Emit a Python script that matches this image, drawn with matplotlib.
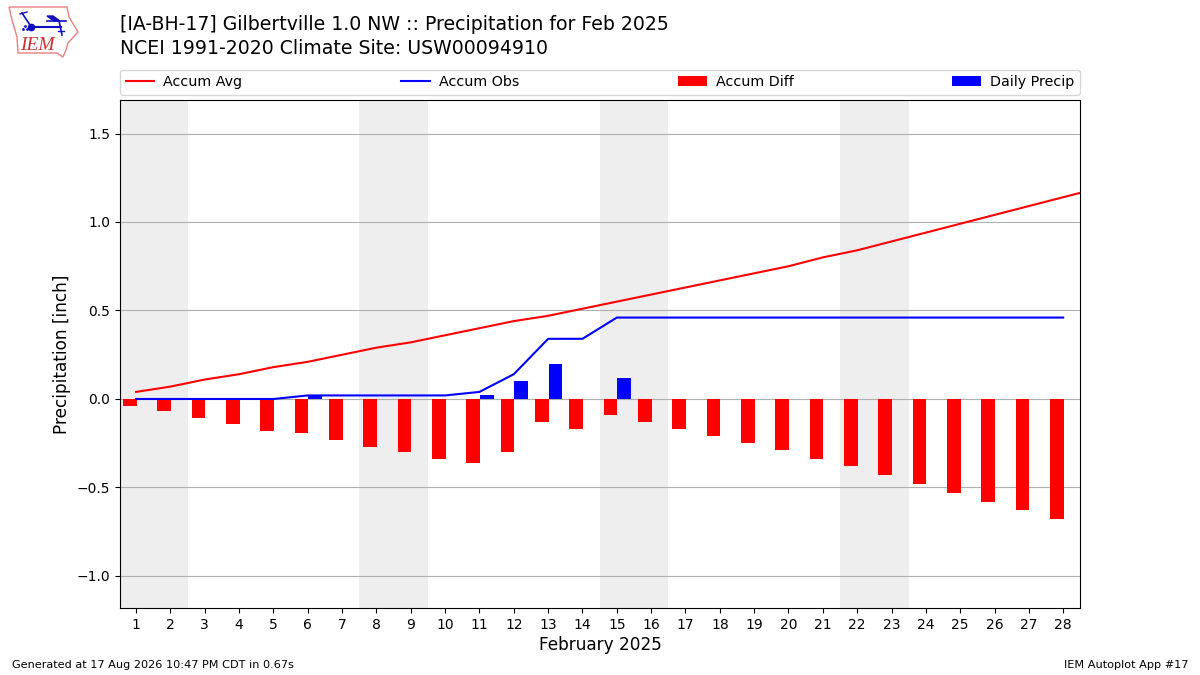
import matplotlib
matplotlib.use("Agg")
from matplotlib import pyplot as plt
import matplotlib.patches as patches
import numpy as np

days = list(range(1, 29))
avg_days = list(range(1, 30))
accum_avg = [0.04, 0.07, 0.11, 0.14, 0.18, 0.21, 0.25, 0.29, 0.32, 0.36,
             0.40, 0.44, 0.47, 0.51, 0.55, 0.59, 0.63, 0.67, 0.71, 0.75,
             0.80, 0.84, 0.89, 0.94, 0.99, 1.04, 1.09, 1.14, 1.19]
accum_obs = [0, 0, 0, 0, 0, 0.02, 0.02, 0.02, 0.02, 0.02,
             0.04, 0.14, 0.34, 0.34, 0.46, 0.46, 0.46, 0.46, 0.46, 0.46,
             0.46, 0.46, 0.46, 0.46, 0.46, 0.46, 0.46, 0.46]
accum_diff = [-0.04, -0.07, -0.11, -0.14, -0.18, -0.19, -0.23, -0.27, -0.30, -0.34,
              -0.36, -0.30, -0.13, -0.17, -0.09, -0.13, -0.17, -0.21, -0.25, -0.29,
              -0.34, -0.38, -0.43, -0.48, -0.53, -0.58, -0.63, -0.68]
daily = [0, 0, 0, 0, 0, 0.02, 0, 0, 0, 0,
         0.02, 0.10, 0.20, 0, 0.12, 0, 0, 0, 0, 0,
         0, 0, 0, 0, 0, 0, 0, 0]
weekends = [1, 8, 15, 22]

W, H = 1200, 675
fig = plt.figure(figsize=(12, 6.75), dpi=100)
ax = fig.add_axes([120 / W, 1 - 608 / H, 960 / W, 508 / H])

# grey weekend bands
for start in weekends:
    ax.axvspan(start - 0.5 - (1 if start == 1 else 0), start + 1.5, color="#eeeeee", lw=0, zorder=0)

bar_x = np.array(days) + 0.015
ax.plot(avg_days, accum_avg, color="r", lw=1.5, label="Accum Avg", zorder=3)
ax.plot(days, accum_obs, color="b", lw=1.5, label="Accum Obs", zorder=3)
ax.bar(bar_x, accum_diff, width=-0.4, align="edge", color="r", label="Accum Diff", zorder=2)
ax.bar(bar_x, daily, width=0.4, align="edge", color="b", label="Daily Precip", zorder=2)

ax.set_xlim(0.53, 28.49)
ax.set_ylim(-1.181, 1.6893)
ax.set_xticks(days)
ax.set_yticks([-1.0, -0.5, 0.0, 0.5, 1.0, 1.5])
ax.tick_params(labelsize=10)
ax.grid(axis="y", color="#b0b0b0", lw=0.8, zorder=1)
ax.set_axisbelow(True)
ax.set_xlabel("February 2025", fontsize=12.2, labelpad=3)
ax.set_ylabel("Precipitation [inch]", fontsize=12.2, labelpad=4)

ax.legend(loc="lower left", bbox_to_anchor=(0, 1 + 5 / 508, 1, 0.05), ncol=4, mode="expand",
          borderaxespad=0, fontsize=10.25, handletextpad=0.65)

fig.text(120 / W, 1 - 25 / H, "[IA-BH-17] Gilbertville 1.0 NW :: Precipitation for Feb 2025",
         fontsize=13.55, va="center")
fig.text(120 / W, 1 - 48 / H, "NCEI 1991-2020 Climate Site: USW00094910", fontsize=13.55, va="center")
fig.text(12 / W, 1 - 665 / H, "Generated at 17 Aug 2026 10:47 PM CDT in 0.67s", fontsize=8.15, va="center")
fig.text(1188 / W, 1 - 665 / H, "IEM Autoplot App #17", fontsize=8.1, va="center", ha="right")

# rough version of the logo, in pixel coords
logo = fig.add_axes([0, 1 - 60 / H, 80 / W, 60 / H])
logo.set_xlim(0, 80)
logo.set_ylim(60, 0)
logo.axis("off")
outline = [(9, 7), (67, 7), (69, 17), (78, 32), (68, 43), (66, 50), (63, 57),
           (57, 53), (18, 53), (17, 37), (12, 20)]
logo.add_patch(patches.Polygon(outline, closed=True, fill=False, ec="#e88080", lw=1))
logo.plot([31, 61], [26.5, 26.5], color="#1010c0", lw=1.5)
logo.plot([47, 66], [21, 21], color="#1010c0", lw=1.2)
logo.plot([22, 31], [13, 26.5], color="#1010c0", lw=1.2)
logo.plot([20, 27], [14, 12], color="#1010c0", lw=1)
logo.plot([59, 62], [21, 35], color="#1010c0", lw=1.2)
logo.plot([58, 64], [31, 31], color="#1010c0", lw=1)
logo.plot([31], [27], "o", color="#1010c0", ms=4.5)
logo.plot([23, 25, 27], [29, 26, 29], ".", color="#1010c0", ms=2)
logo.add_patch(patches.Polygon([(47, 16), (53, 16), (60, 21), (54, 21)], color="#1010c0"))
logo.text(37.5, 45, "IEM", color="#d03030", fontsize=14, family="Liberation Serif",
          style="italic", ha="center", va="center")

fig.savefig("out.png", dpi=100)
